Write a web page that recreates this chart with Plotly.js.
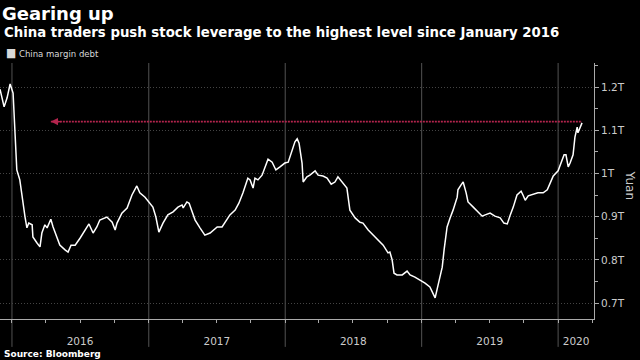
<!DOCTYPE html>
<html>
<head>
<meta charset="utf-8">
<script src="https://cdn.plot.ly/plotly-3.0.1.min.js"></script>
<style>html,body{margin:0;padding:0;background:#000;}#chart{width:640px;height:360px;}</style>
</head>
<body>
<div id="chart"></div>
<script>
// China margin debt (trillion yuan)
const dates = [
 '2015-11-30','2015-12-11','2015-12-19','2015-12-27',
 '2016-01-04','2016-01-09','2016-01-14','2016-01-22','2016-01-30','2016-02-05','2016-02-10','2016-02-15','2016-02-24','2016-02-26',
 '2016-03-08','2016-03-16','2016-03-21','2016-03-29','2016-04-04','2016-04-14','2016-04-20','2016-04-30','2016-05-08','2016-05-22',
 '2016-05-30','2016-06-07','2016-06-18','2016-07-01','2016-07-14','2016-07-25','2016-08-05','2016-08-15','2016-08-23','2016-09-11',
 '2016-09-25','2016-10-03','2016-10-08','2016-10-21','2016-11-04','2016-11-17','2016-11-30','2016-12-08','2016-12-22',
 '2017-01-04','2017-01-12','2017-01-20','2017-01-28','2017-02-08','2017-02-21','2017-03-07','2017-03-20','2017-03-31','2017-04-03',
 '2017-04-13','2017-04-19','2017-04-27','2017-05-05','2017-05-18','2017-05-31','2017-06-14','2017-07-03','2017-07-16','2017-07-24',
 '2017-08-06','2017-08-20','2017-08-30','2017-09-10','2017-09-23','2017-09-29','2017-10-07','2017-10-12','2017-10-20','2017-10-31',
 '2017-11-08','2017-11-16','2017-11-27','2017-12-07','2017-12-18','2017-12-31',
 '2018-01-09','2018-01-19','2018-01-27','2018-02-02','2018-02-07','2018-02-15','2018-02-18','2018-02-28','2018-03-08','2018-03-22',
 '2018-03-30','2018-04-12','2018-04-23','2018-05-04','2018-05-14','2018-05-22','2018-06-05','2018-06-15','2018-06-23','2018-07-07',
 '2018-07-20','2018-07-28','2018-08-11','2018-08-24','2018-09-06','2018-09-20','2018-10-03','2018-10-08','2018-10-14','2018-10-19',
 '2018-10-27','2018-11-10','2018-11-23','2018-12-01','2018-12-14','2018-12-28',
 '2019-01-10','2019-01-23','2019-01-31','2019-02-06','2019-02-14','2019-02-25','2019-03-02','2019-03-10','2019-03-18','2019-03-26',
 '2019-04-06','2019-04-08','2019-04-16','2019-04-22','2019-04-30','2019-05-05','2019-05-19','2019-06-01','2019-06-12','2019-06-20',
 '2019-07-03','2019-07-16','2019-07-30','2019-08-09','2019-08-18','2019-08-26','2019-09-03','2019-09-13','2019-09-24','2019-09-29',
 '2019-10-05','2019-10-13','2019-10-26','2019-11-08','2019-11-22','2019-12-03','2019-12-11','2019-12-19',
 '2020-01-01','2020-01-12','2020-01-17','2020-01-22','2020-01-28','2020-02-02','2020-02-10','2020-02-15','2020-02-21','2020-02-23',
 '2020-02-29','2020-03-05'
];
const marginDebt = [
 1.195,1.154,1.175,1.207,
 1.186,1.100,1.008,0.985,0.931,0.899,0.874,0.885,0.881,0.853,
 0.839,0.830,0.862,0.881,0.874,0.894,0.876,0.850,0.834,0.823,
 0.818,0.834,0.834,0.850,0.869,0.883,0.862,0.876,0.892,0.899,
 0.887,0.869,0.885,0.908,0.920,0.950,0.971,0.955,0.945,
 0.931,0.922,0.899,0.864,0.885,0.904,0.911,0.922,0.927,0.920,
 0.934,0.931,0.911,0.892,0.874,0.857,0.862,0.876,0.876,0.887,
 0.904,0.915,0.931,0.955,0.989,0.985,0.966,0.989,0.985,0.996,
 1.013,1.033,1.026,1.008,1.015,1.024,
 1.026,1.050,1.073,1.080,1.070,1.024,0.980,0.992,0.996,1.006,
 0.996,0.994,0.989,0.975,0.980,0.992,0.978,0.966,0.915,0.897,
 0.887,0.885,0.869,0.857,0.846,0.834,0.816,0.818,0.800,0.769,
 0.765,0.765,0.774,0.765,0.760,0.753,
 0.746,0.737,0.723,0.712,0.742,0.783,0.823,0.876,0.897,0.915,
 0.945,0.962,0.973,0.980,0.955,0.934,0.922,0.911,0.901,0.904,
 0.908,0.901,0.897,0.885,0.883,0.904,0.922,0.950,0.959,0.950,
 0.938,0.948,0.952,0.955,0.955,0.962,0.978,0.994,
 1.006,1.031,1.043,1.043,1.015,1.024,1.043,1.084,1.107,1.094,
 1.107,1.117
];

// axis labels
const yTickVals = [0.7, 0.8, 0.9, 1.0, 1.1, 1.2];
const yTickText = ['0.7T', '0.8T', '0.9T', '1T', '1.1T', '1.2T'];
const yearStarts = ['2016-01-01', '2017-01-01', '2018-01-01', '2019-01-01', '2020-01-01'];
const yearLabelPos = ['2016-07-01', '2017-07-02', '2018-07-02', '2019-07-02', '2020-02-18'];
const yearLabels = ['2016', '2017', '2018', '2019', '2020'];
const xRange = ['2015-11-30', '2020-04-06'];
const yRange = [0.663, 1.2556];

// highlighted level (highest since January 2016)
const highlightLevel = 1.12;
const highlightFrom = '2016-04-14';
const highlightTo = '2020-03-05';

const FONT = 'DejaVu Sans, Liberation Sans, sans-serif';
const COND = 'DejaVu Sans Condensed, DejaVu Sans, sans-serif';
const red = '#b3244d';

const traces = [{
  type: 'scatter', mode: 'lines', x: dates, y: marginDebt,
  name: 'China margin debt', showlegend: false,
  line: {color: '#ffffff', width: 1.5}, hoverinfo: 'skip'
}];

const shapes = yearStarts.map(d => ({
  type: 'line', xref: 'x', yref: 'paper', x0: d, x1: d, y0: -0.109, y1: 1,
  line: {color: '#525252', width: 1}, layer: 'below'
}));
shapes.push({
  type: 'line', xref: 'x', yref: 'y', x0: highlightFrom, x1: highlightTo,
  y0: highlightLevel, y1: highlightLevel,
  line: {color: red, width: 1.6, dash: '2px,1px'}
});

const annotations = [
  {xref: 'paper', yref: 'paper', x: 0.0034, y: 1.121, xanchor: 'left', yanchor: 'middle', showarrow: false,
   text: 'China traders push stock leverage to the highest level since January 2016',
   font: {family: FONT, size: 13.3, color: '#ffffff', weight: 'bold'}},
  {xref: 'paper', yref: 'paper', x: 0.006, y: 1.039, xanchor: 'left', yanchor: 'middle', showarrow: false,
   text: '<span style="font-size:12px">■</span> China margin debt', font: {family: COND, size: 9.5, color: '#d8d8d8'}},
  {xref: 'paper', yref: 'paper', x: 0.0034, y: -0.137, xanchor: 'left', yanchor: 'middle', showarrow: false,
   text: 'Source: Bloomberg', font: {family: FONT, size: 9, color: '#ffffff', weight: 'bold'}},
  {xref: 'paper', yref: 'paper', x: 1.06, y: 0.523, xanchor: 'center', yanchor: 'middle', showarrow: false,
   text: 'Yuan', textangle: 90, font: {family: FONT, size: 12, color: '#cccccc'}},
  {xref: 'x', yref: 'y', x: highlightFrom, y: highlightLevel, ax: 12, ay: 0, text: '',
   showarrow: true, arrowhead: 2, arrowsize: 1.1, arrowwidth: 1.3, arrowcolor: red}
];

const layout = {
  width: 640, height: 360,
  paper_bgcolor: '#000000', plot_bgcolor: '#000000',
  margin: {l: 0, r: 46, t: 63, b: 41, pad: 0},
  showlegend: false,
  title: {text: 'Gearing up', x: 0.003, xref: 'container', xanchor: 'left',
          y: 0.962, yref: 'container', yanchor: 'middle',
          font: {family: FONT, size: 18, color: '#ffffff', weight: 'bold'}},
  xaxis: {
    type: 'date', range: xRange, fixedrange: true,
    tickvals: yearLabelPos, ticktext: yearLabels, ticks: '',
    ticklabelstandoff: 12,
    tickfont: {family: FONT, size: 10.5, color: '#cccccc'},
    showgrid: false, zeroline: false,
    showline: true, linecolor: '#aaaaaa', linewidth: 1,
    minor: {dtick: 'M3', tick0: '2016-01-01', ticks: 'outside', ticklen: 3, tickcolor: '#aaaaaa', tickwidth: 1, showgrid: false}
  },
  yaxis: {
    side: 'right', range: yRange, fixedrange: true,
    tickvals: yTickVals, ticktext: yTickText,
    ticks: 'outside', ticklen: 4, tickcolor: '#aaaaaa',
    tickfont: {family: FONT, size: 10.5, color: '#cccccc'},
    showgrid: true, gridcolor: '#444444', gridwidth: 1, griddash: '1px,2px',
    zeroline: false, showline: true, linecolor: '#aaaaaa', linewidth: 1,
    minor: {dtick: 0.05, tick0: 0.7, ticks: 'outside', ticklen: 3, tickcolor: '#aaaaaa', showgrid: false}
  },
  shapes: shapes,
  annotations: annotations
};

Plotly.newPlot('chart', traces, layout, {displayModeBar: false, staticPlot: true});
</script>
</body>
</html>
